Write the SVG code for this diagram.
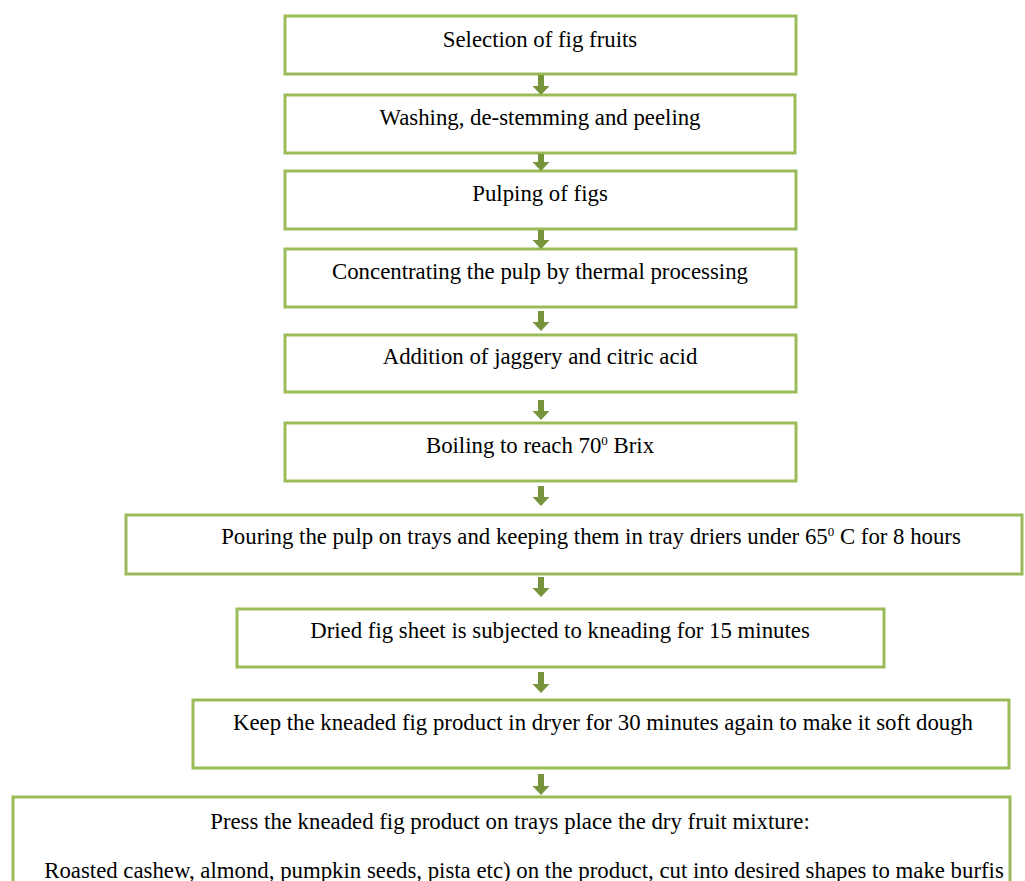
<svg xmlns="http://www.w3.org/2000/svg" width="1025" height="881" viewBox="0 0 1025 881">
<style>
.box{fill:#ffffff;stroke:#9bbb59;stroke-width:3}
.t{font-family:'Liberation Serif','DejaVu Serif',serif;font-size:22.8px;fill:#000000;text-anchor:middle}
.arr{fill:#77933c}
</style>
<rect x="0" y="0" width="1025" height="881" fill="#ffffff"/>
<g id="n1"><rect class="box" x="285" y="16" width="511" height="58"/><text class="t" x="540" y="47">Selection of fig fruits</text></g>
<g id="n2"><rect class="box" x="285" y="95" width="510" height="58"/><text class="t" x="540" y="125">Washing, de-stemming and peeling</text></g>
<g id="n3"><rect class="box" x="285" y="171" width="511" height="58"/><text class="t" x="540" y="201">Pulping of figs</text></g>
<g id="n4"><rect class="box" x="285" y="249" width="511" height="58"/><text class="t" x="540" y="279">Concentrating the pulp by thermal processing</text></g>
<g id="n5"><rect class="box" x="285" y="335" width="511" height="57"/><text class="t" x="540" y="364">Addition of jaggery and citric acid</text></g>
<g id="n6"><rect class="box" x="285" y="423" width="511" height="58"/><text class="t" x="540" y="453">Boiling to reach 70<tspan font-size="13" dy="-8">0</tspan><tspan dy="8"> Brix</tspan></text></g>
<g id="n7"><rect class="box" x="126" y="515" width="896" height="59"/><text class="t" x="591" y="544">Pouring the pulp on trays and keeping them in tray driers under 65<tspan font-size="13" dy="-8">0</tspan><tspan dy="8"> C for 8 hours</tspan></text></g>
<g id="n8"><rect class="box" x="237" y="609" width="647" height="58"/><text class="t" x="560" y="638">Dried fig sheet is subjected to kneading for 15 minutes</text></g>
<g id="n9"><rect class="box" x="193" y="700" width="816" height="68"/><text class="t" x="603" y="730">Keep the kneaded fig product in dryer for 30 minutes again to make it soft dough</text></g>
<g id="n10"><rect class="box" x="13" y="797" width="997" height="100"/><text class="t" x="510" y="829">Press the kneaded fig product on trays place the dry fruit mixture:</text><text class="t" x="524" y="878">Roasted cashew, almond, pumpkin seeds, pista etc) on the product, cut into desired shapes to make burfis</text></g>
<g id="connectors">
<path class="arr" d="M538,75 H544 V86 H549.5 L541,95 L532.5,86 H538 Z"/>
<path class="arr" d="M538,154 H544 V162 H549.5 L541,171 L532.5,162 H538 Z"/>
<path class="arr" d="M538,230 H544 V240 H549.5 L541,249 L532.5,240 H538 Z"/>
<path class="arr" d="M538,311 H544 V322 H549.5 L541,331 L532.5,322 H538 Z"/>
<path class="arr" d="M538,400 H544 V411 H549.5 L541,420 L532.5,411 H538 Z"/>
<path class="arr" d="M538,486 H544 V497 H549.5 L541,506 L532.5,497 H538 Z"/>
<path class="arr" d="M538,577 H544 V588 H549.5 L541,597 L532.5,588 H538 Z"/>
<path class="arr" d="M538,672 H544 V684 H549.5 L541,693 L532.5,684 H538 Z"/>
<path class="arr" d="M538,774 H544 V786 H549.5 L541,795 L532.5,786 H538 Z"/>
</g>
</svg>
